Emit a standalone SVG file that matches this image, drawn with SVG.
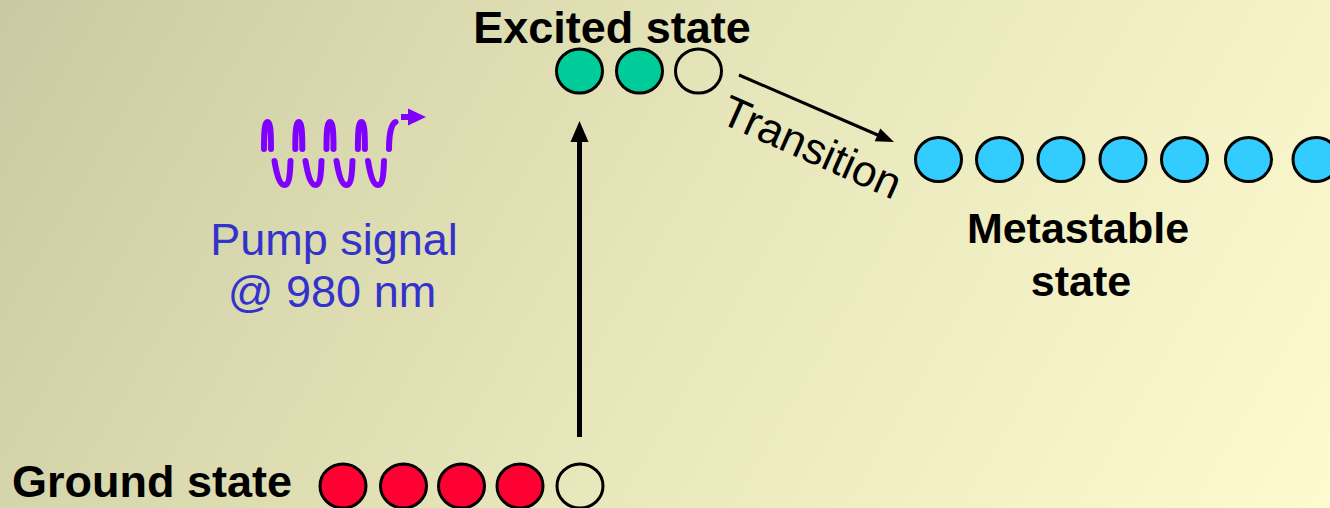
<svg xmlns="http://www.w3.org/2000/svg" width="1330" height="508" viewBox="0 0 1330 508">
<defs>
<linearGradient id="bg" gradientUnits="userSpaceOnUse" x1="0" y1="0" x2="1200" y2="700">
<stop offset="0" stop-color="#CACAA2"/>
<stop offset="0.5" stop-color="#E7E6BA"/>
<stop offset="1" stop-color="#FCFACE"/>
</linearGradient>
<style>
.lbl{font-family:"Liberation Sans",Arial,sans-serif;font-weight:bold;font-size:45px;fill:#000}
.pump{font-family:"Liberation Sans",Arial,sans-serif;font-size:45px;fill:#3333CC}
.atom{stroke:#000;stroke-width:3}
.g{fill:#00CC99}.r{fill:#FF0033}.b{fill:#33CCFF}.e{fill:none}
.wave{fill:none;stroke:#8000FF;stroke-width:6;stroke-linecap:round}
</style>
</defs>
<rect x="0" y="0" width="1330" height="508" fill="url(#bg)"/>

<g id="excited-state">
<text class="lbl" x="612" y="43" text-anchor="middle">Excited state</text>
<ellipse class="atom g" cx="579.5" cy="71" rx="23" ry="22"/>
<ellipse class="atom g" cx="639.5" cy="71" rx="23" ry="22"/>
<ellipse class="atom e" cx="698.5" cy="71" rx="23" ry="22"/>
</g>

<g id="metastable-state">
<ellipse class="atom b" cx="938.5" cy="159.5" rx="23" ry="22"/>
<ellipse class="atom b" cx="999.5" cy="159.5" rx="23" ry="22"/>
<ellipse class="atom b" cx="1061" cy="159.5" rx="23" ry="22"/>
<ellipse class="atom b" cx="1123" cy="159.5" rx="23" ry="22"/>
<ellipse class="atom b" cx="1184.5" cy="159.5" rx="23" ry="22"/>
<ellipse class="atom b" cx="1248.5" cy="159.5" rx="23" ry="22"/>
<ellipse class="atom b" cx="1316" cy="159.5" rx="23" ry="22"/>
<text class="lbl" x="1078" y="243" text-anchor="middle" style="font-size:43px">Metastable</text>
<text class="lbl" x="1081" y="296" text-anchor="middle" style="font-size:43px">state</text>
</g>

<g id="ground-state">
<text class="lbl" x="12" y="497">Ground state</text>
<ellipse class="atom r" cx="343" cy="486" rx="23" ry="22"/>
<ellipse class="atom r" cx="403.5" cy="486" rx="23" ry="22"/>
<ellipse class="atom r" cx="461.5" cy="486" rx="23" ry="22"/>
<ellipse class="atom r" cx="520" cy="486" rx="23" ry="22"/>
<ellipse class="atom e" cx="580" cy="486" rx="23" ry="22"/>
</g>

<g id="pump-signal">
<g class="wave">
<path d="M264,149 C264,130 264.8,122 267.5,122 C270.2,122 271,130 271,149"/>
<path d="M295.3,149 C295.3,130 296.1,122 298.8,122 C301.5,122 302.3,130 302.3,149"/>
<path d="M326.5,149 C326.5,130 327.3,122 330,122 C332.7,122 333.5,130 333.5,149"/>
<path d="M357.9,149 C357.9,130 358.7,122 361.4,122 C364.1,122 364.9,130 364.9,149"/>
<path d="M389,149 C389,135 391,124 395.5,122"/>
<path d="M274.5,161 C277,176 280,185 284.5,185 C289,185 290,176 290.5,161"/>
<path d="M305.5,161 C308,176 311,185 315.5,185 C320,185 321,176 321.5,161"/>
<path d="M336.5,161 C339,176 342,185 346.5,185 C351,185 352,176 352.5,161"/>
<path d="M368,161 C370.5,176 373.5,185 378,185 C382.5,185 383.5,176 384,161"/>
<path d="M401,117 L409,117" stroke-linecap="butt"/>
</g>
<polygon points="408,108.5 426,117 408,125.5" fill="#8000FF"/>
<text class="pump" x="334" y="255" text-anchor="middle">Pump signal</text>
<text class="pump" x="332" y="307" text-anchor="middle">@ 980 nm</text>
</g>

<g id="connectors">
<line x1="579.5" y1="437" x2="579.5" y2="138" stroke="#000" stroke-width="5"/>
<polygon points="579.5,121 570.5,142 588.5,142" fill="#000"/>
<line x1="739" y1="75" x2="880" y2="136" stroke="#000" stroke-width="3"/>
<polygon points="894,142 874.7,141.3 880.3,128.5" fill="#000"/>
<text x="718" y="122" transform="rotate(24 718 122)" font-family="Liberation Sans, Arial, sans-serif" font-size="44" fill="#000">Transition</text>
</g>
</svg>
